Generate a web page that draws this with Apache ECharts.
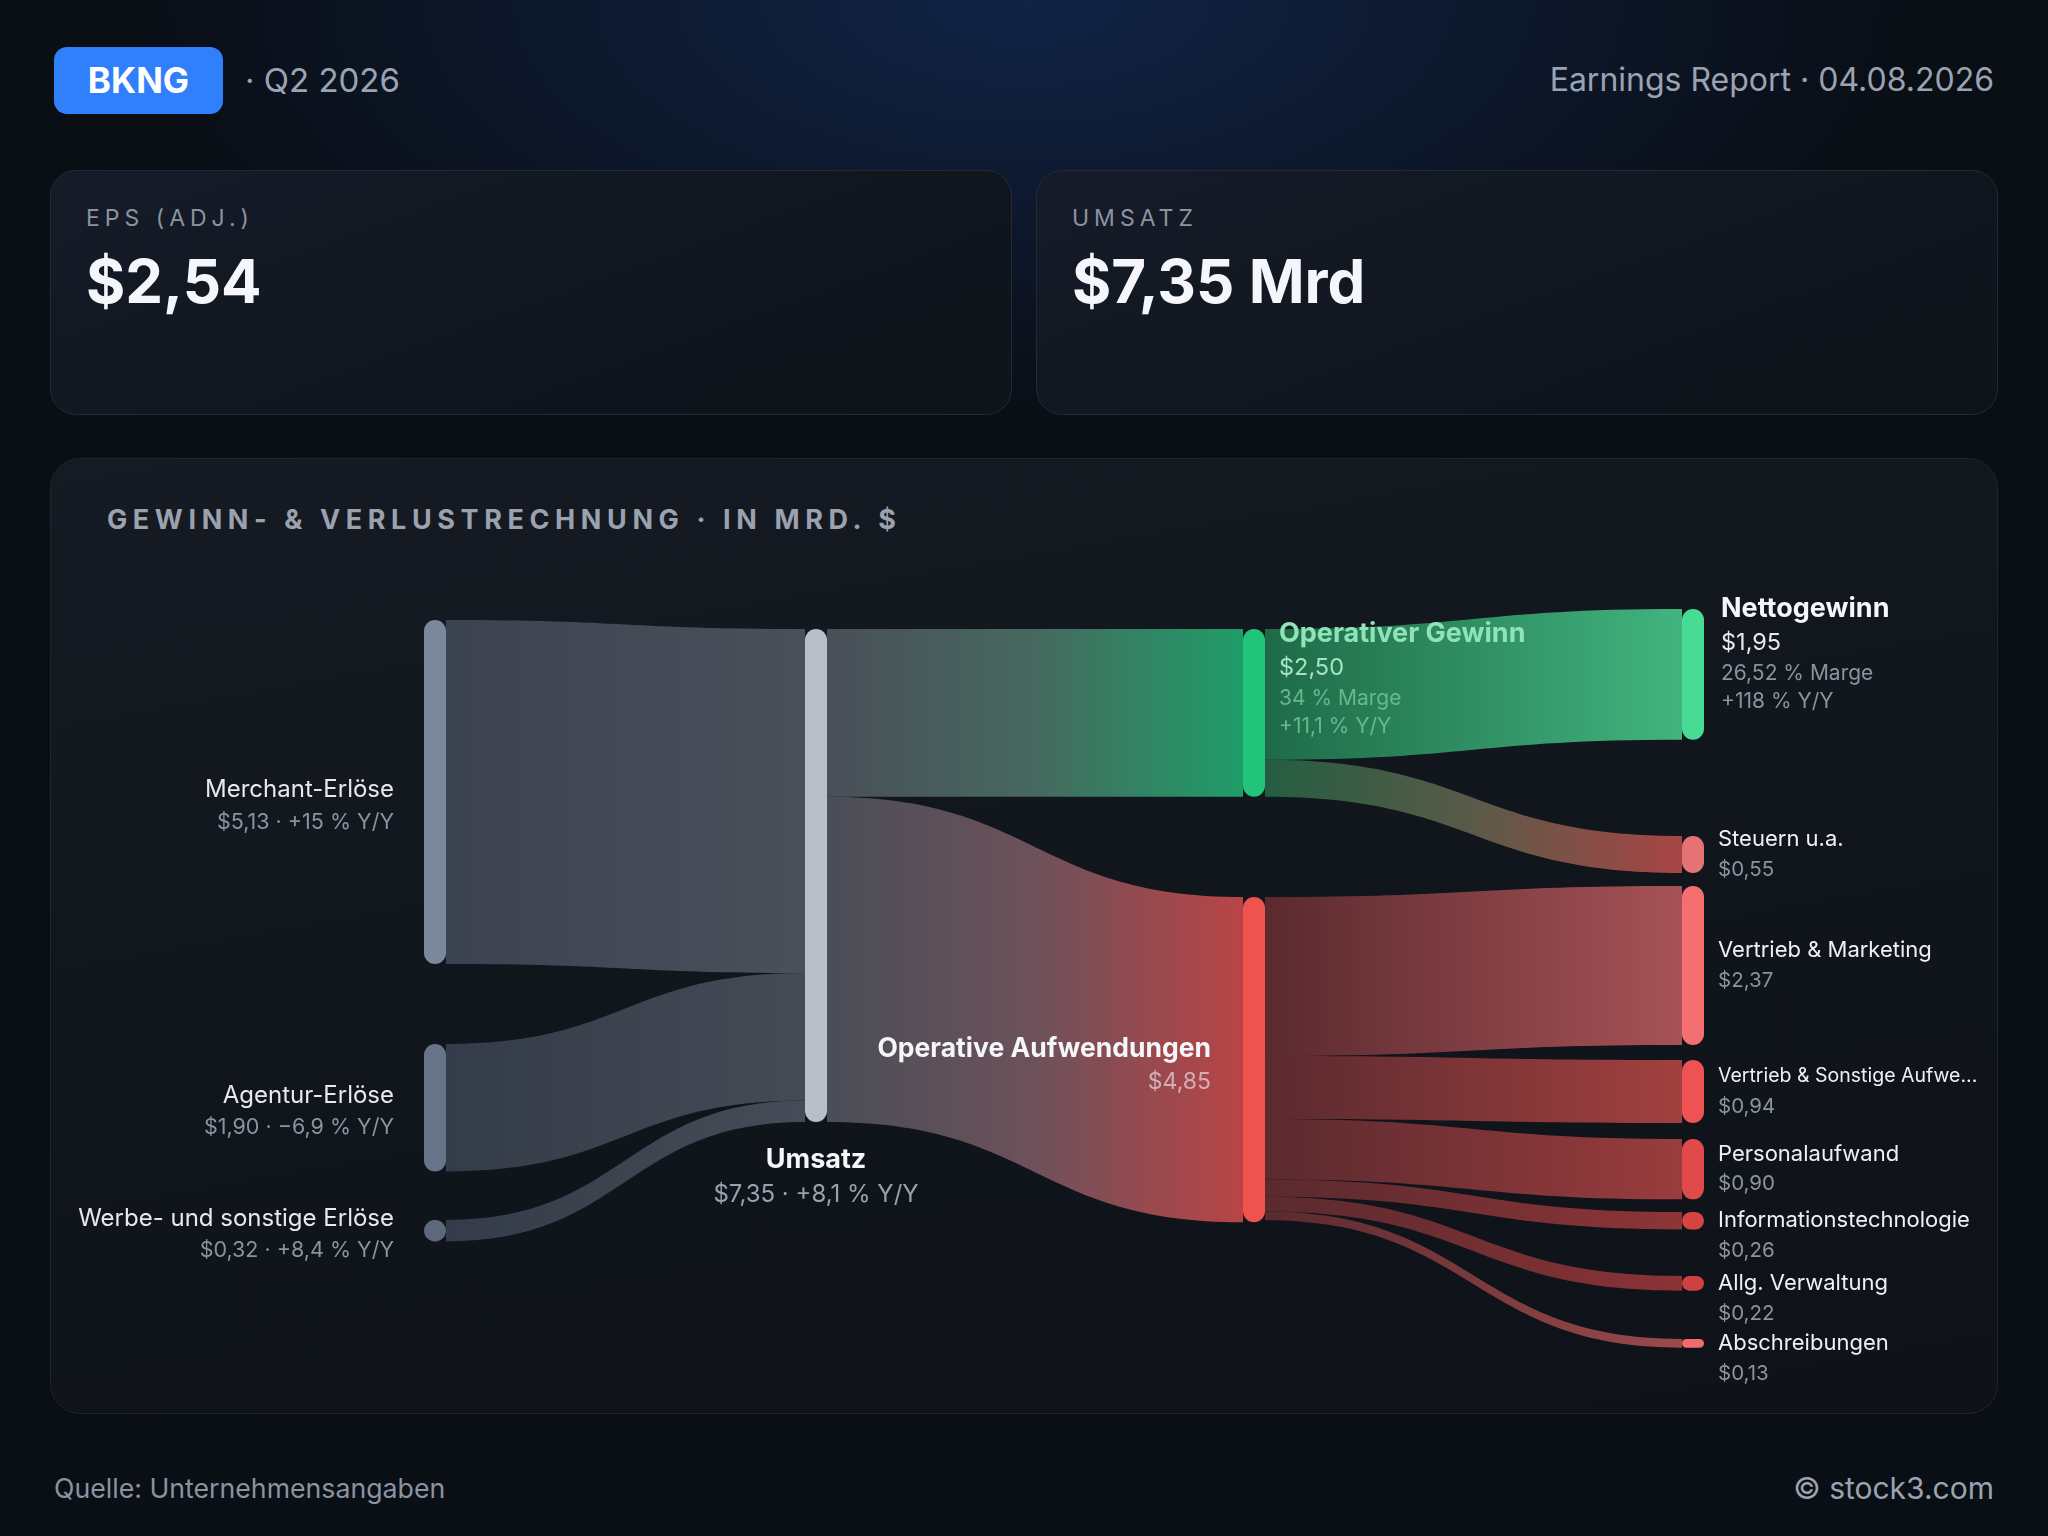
<!DOCTYPE html>
<html>
<head>
<meta charset="utf-8">
<script src="https://cdn.jsdelivr.net/npm/echarts@6/dist/echarts.min.js"></script>
<style>
  html, body { margin: 0; padding: 0; }
  body { width: 2048px; height: 1536px; overflow: hidden; font-family: Inter, "Noto Sans", sans-serif;
    background: radial-gradient(ellipse 900px 420px at 50% 0%, rgba(22,52,110,0.55), rgba(10,14,21,0) 100%), #0a0e15; position: relative; }
  .abs { position: absolute; white-space: nowrap; }
  .badge { left: 54px; top: 47px; width: 169px; height: 67px; border-radius: 13px; background: #2f80fa; color: #fff;
    font-weight: 700; font-size: 35px; line-height: 67px; text-align: center; }
  .q { left: 245px; top: 60px; font-size: 33px; line-height: 40px; color: #9aa3b2; }
  .er { right: 54px; top: 60px; font-size: 32px; line-height: 40px; color: #9aa3b2; }
  .card { top: 170px; height: 245px; width: 962px; border-radius: 26px; border: 1.5px solid #222a35; box-sizing: border-box;
    background: linear-gradient(160deg, #151c28 0%, #10141c 70%, #0f131a 100%); }
  .klabel { top: 204px; font-size: 23px; line-height: 28px; letter-spacing: 5px; color: #8b93a1; }
  .kval { top: 246px; font-size: 60px; line-height: 70px; font-weight: 700; color: #f4f6fb; }
  .panel { left: 50px; top: 458px; width: 1948px; height: 956px; border-radius: 30px; border: 1.5px solid #1f252f; box-sizing: border-box;
    background: linear-gradient(170deg, #161b23 0%, #10141b 60%, #0f1319 100%); }
  .ptitle { left: 107px; top: 503px; font-size: 27px; line-height: 34px; font-weight: 700; letter-spacing: 5.6px; color: #9aa2af; }
  .src { left: 54px; top: 1471px; font-size: 26.7px; line-height: 34px; color: #8b93a1; }
  .copy { right: 54px; top: 1469px; font-size: 30px; line-height: 38px; color: #9aa3b2; }
  #chart { position: absolute; left: 0; top: 0; width: 2048px; height: 1536px; }
</style>
</head>
<body>
<div class="abs badge">BKNG</div>
<div class="abs q">· Q2 2026</div>
<div class="abs er">Earnings Report · 04.08.2026</div>
<div class="abs card" style="left:50px"></div>
<div class="abs card" style="left:1036px"></div>
<div class="abs klabel" style="left:86px">EPS (ADJ.)</div>
<div class="abs kval" style="left:86px">$2,54</div>
<div class="abs klabel" style="left:1072px">UMSATZ</div>
<div class="abs kval" style="left:1072px">$7,35 Mrd</div>
<div class="abs panel"></div>
<div class="abs ptitle">GEWINN- &amp; VERLUSTRECHNUNG · IN MRD. $</div>
<div class="abs src">Quelle: Unternehmensangaben</div>
<div class="abs copy">© stock3.com</div>
<div id="chart"></div>
<script>
// ---------- data (in Mrd. $) ----------
const revenueNames = ['Merchant-Erlöse', 'Agentur-Erlöse', 'Werbe- und sonstige Erlöse'];
const revenueValues = [5.13, 1.90, 0.32];
const revenueYoY = ['+15 %', '−6,9 %', '+8,4 %'];
const totalName = 'Umsatz';
const totalValue = 7.35;
const totalYoY = '+8,1 %';
const opProfitName = 'Operativer Gewinn';
const opProfitValue = 2.50;
const opProfitMargin = '34 %';
const opProfitYoY = '+11,1 %';
const opExpName = 'Operative Aufwendungen';
const opExpValue = 4.85;
const netName = 'Nettogewinn';
const netValue = 1.95;
const netMargin = '26,52 %';
const netYoY = '+118 %';
const taxName = 'Steuern u.a.';
const taxValue = 0.55;
const expenseNames = ['Vertrieb & Marketing', 'Vertrieb & Sonstige Aufwe...', 'Personalaufwand', 'Informationstechnologie', 'Allg. Verwaltung', 'Abschreibungen'];
const expenseValues = [2.37, 0.94, 0.90, 0.26, 0.22, 0.13];

// ---------- layout / style ----------
const FONT = 'Inter, "Noto Sans", sans-serif';
const seriesTop = 629, seriesH = 493, chartW = 2048;
const colX = [424, 805, 1243, 1682];
const nodeTop = {
  'Merchant-Erlöse': 620, 'Agentur-Erlöse': 1044, 'Werbe- und sonstige Erlöse': 1220,
  'Umsatz': 629, 'Operativer Gewinn': 629, 'Operative Aufwendungen': 897,
  'Nettogewinn': 609, 'Steuern u.a.': 836,
  'Vertrieb & Marketing': 886, 'Vertrieb & Sonstige Aufwe...': 1060, 'Personalaufwand': 1139,
  'Informationstechnologie': 1212, 'Allg. Verwaltung': 1276, 'Abschreibungen': 1339
};
const revenueLabelOffset = [[0, 14], [0, 4], [0, 4]];
const revenueColors = ['#7b879b', '#667389', '#5d687c'];
const expenseColors = ['#f47070', '#ee5252', '#e04a4a', '#d84444', '#cf4040', '#f26b6b'];
const expenseLinkEnd = ['#a65257', '#a2403f', '#9a3c3d', '#8e3537', '#8a3335', '#9a4a4b'];
const revenueLinkStyle = [['#3c4350', '#4a505a'], ['#343c49', '#454b55'], ['#343c49', '#464c57']];

const fmt = v => '$' + v.toFixed(2).replace('.', ',');
const grad = stops => new echarts.graphic.LinearGradient(0, 0, 1, 0,
  stops.map((c, i) => ({ offset: i / (stops.length - 1), color: c })));
const pos = (col, name) => ({ localX: colX[col] / chartW, localY: (nodeTop[name] - seriesTop) / seriesH });

const nodes = [];
const links = [];

revenueNames.forEach((n, i) => {
  nodes.push(Object.assign({ name: n, itemStyle: { color: revenueColors[i] },
    label: { position: 'left', distance: 30, align: 'right', offset: revenueLabelOffset[i],
      formatter: '{ln|' + n + '}\n{lv|' + fmt(revenueValues[i]) + ' · ' + revenueYoY[i] + ' Y/Y}' } }, pos(0, n)));
});
nodes.push(Object.assign({ name: totalName, itemStyle: { color: '#b9becb' },
  label: { position: 'bottom', distance: 20, align: 'center',
    formatter: '{un|' + totalName + '}\n{uv|' + fmt(totalValue) + ' · ' + totalYoY + ' Y/Y}' } }, pos(1, totalName)));
nodes.push(Object.assign({ name: opProfitName, itemStyle: { color: '#22c47a' },
  label: { position: [36, -12], align: 'left', verticalAlign: 'top',
    formatter: '{gn|' + opProfitName + '}\n{gv|' + fmt(opProfitValue) + '}\n{gs|' + opProfitMargin + ' Marge}\n{gs|' + opProfitYoY + ' Y/Y}' } }, pos(2, opProfitName)));
nodes.push(Object.assign({ name: opExpName, itemStyle: { color: '#ef5350' },
  label: { position: 'left', distance: 32, align: 'right', offset: [0, 6],
    formatter: '{an|' + opExpName + '}\n{av|' + fmt(opExpValue) + '}' } }, pos(2, opExpName)));
nodes.push(Object.assign({ name: netName, itemStyle: { color: '#48db93' },
  label: { position: [39, -17], align: 'left', verticalAlign: 'top',
    formatter: '{nb|' + netName + '}\n{vb|' + fmt(netValue) + '}\n{s|' + netMargin + ' Marge}\n{s|' + netYoY + ' Y/Y}' } }, pos(3, netName)));
nodes.push(Object.assign({ name: taxName, itemStyle: { color: '#e57373' },
  label: { position: 'right', distance: 14, formatter: '{n|' + taxName + '}\n{v|' + fmt(taxValue) + '}' } }, pos(3, taxName)));
expenseNames.forEach((n, i) => {
  const small = expenseValues[i] < 0.5;
  const nameStyle = n.indexOf('...') >= 0 ? 'sn' : 'n';
  nodes.push(Object.assign({ name: n, itemStyle: { color: expenseColors[i] },
    label: { position: 'right', distance: 14, padding: small ? [30, 0, 0, 0] : 0,
      formatter: '{' + nameStyle + '|' + n + '}\n{v|' + fmt(expenseValues[i]) + '}' } }, pos(3, n)));
});

revenueNames.forEach((n, i) => {
  links.push({ source: n, target: totalName, value: revenueValues[i], lineStyle: { color: grad(revenueLinkStyle[i]) } });
});
links.push({ source: totalName, target: opProfitName, value: opProfitValue, lineStyle: { color: grad(['#4a4f58', '#46695f', '#1f9d68']) } });
links.push({ source: totalName, target: opExpName, value: opExpValue, lineStyle: { color: grad(['#4a4e57', '#6d515a', '#b94446']) } });
links.push({ source: opProfitName, target: netName, value: netValue, lineStyle: { color: grad(['#1e6a48', '#42b47f']) } });
links.push({ source: opProfitName, target: taxName, value: taxValue, lineStyle: { color: grad(['#245e42', '#5a5a48', '#a84545']) } });
expenseNames.forEach((n, i) => {
  links.push({ source: opExpName, target: n, value: expenseValues[i], lineStyle: { color: grad(['#5a2a2f', expenseLinkEnd[i]]) } });
});

const chart = echarts.init(document.getElementById('chart'), null, { renderer: 'canvas' });
chart.setOption({
  backgroundColor: 'transparent',
  animation: false,
  series: [{
    type: 'sankey',
    left: 0, top: seriesTop, width: chartW, height: seriesH,
    nodeWidth: 22, nodeGap: 0, layoutIterations: 0, draggable: false,
    emphasis: { disabled: true },
    itemStyle: { borderWidth: 0, borderRadius: 11 },
    lineStyle: { opacity: 1, curveness: 0.5 },
    label: {
      show: true, fontFamily: FONT,
      rich: {
        ln: { fontFamily: FONT, fontSize: 24, color: '#e6e9ef', lineHeight: 32, align: 'right' },
        lv: { fontFamily: FONT, fontSize: 21.5, color: '#8b93a1', lineHeight: 32, align: 'right' },
        un: { fontFamily: FONT, fontSize: 27, fontWeight: 700, color: '#f4f6fa', lineHeight: 35, align: 'center' },
        uv: { fontFamily: FONT, fontSize: 24, color: '#9aa1ad', lineHeight: 36, align: 'center' },
        an: { fontFamily: FONT, fontSize: 26.5, fontWeight: 700, color: '#f4f6fa', lineHeight: 33, align: 'right' },
        av: { fontFamily: FONT, fontSize: 23, color: 'rgba(222,200,204,0.8)', lineHeight: 33, align: 'right' },
        gn: { fontFamily: FONT, fontSize: 27, fontWeight: 700, color: '#8fe3b7', lineHeight: 34 },
        gv: { fontFamily: FONT, fontSize: 23.5, color: '#a4e2c2', lineHeight: 34 },
        gs: { fontFamily: FONT, fontSize: 21, color: '#65b890', lineHeight: 28 },
        nb: { fontFamily: FONT, fontSize: 27, fontWeight: 700, color: '#f4f6fa', lineHeight: 34 },
        vb: { fontFamily: FONT, fontSize: 23.5, color: '#e6e9ef', lineHeight: 34 },
        s: { fontFamily: FONT, fontSize: 21, color: '#8b93a1', lineHeight: 28 },
        n: { fontFamily: FONT, fontSize: 22, color: '#eef0f4', lineHeight: 30 },
        sn: { fontFamily: FONT, fontSize: 19.5, color: '#eef0f4', lineHeight: 30 },
        v: { fontFamily: FONT, fontSize: 20.5, color: '#8b93a1', lineHeight: 30 }
      }
    },
    data: nodes,
    links: links
  }]
});
</script>
</body>
</html>
